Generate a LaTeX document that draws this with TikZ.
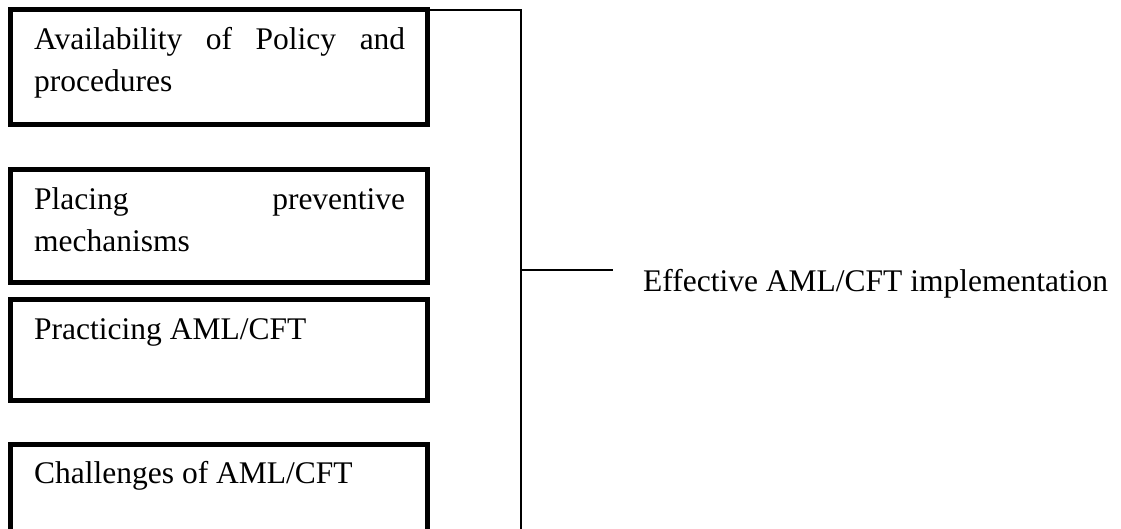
\documentclass[tikz,border=0pt]{standalone}
\usepackage{fontspec}
\setmainfont{Liberation Serif}
\hyphenpenalty=10000
\exhyphenpenalty=10000
\tolerance=10000
\hbadness=10000

\begin{document}
\begin{tikzpicture}[x=1pt, y=-1pt,
	box/.style={draw, line width=5pt, inner sep=0pt, outer sep=0pt, minimum width=417pt, anchor=north west},
	boxtext/.style={anchor=base west, inner sep=0pt, text width=371pt, align=justify, font=\fontsize{31.5}{42}\selectfont},
	wire/.style={line width=1.6pt}]
\useasboundingbox (0,0) rectangle (1121,529);
\clip (0,0) rectangle (1121,529);

% boxes on the left
\node[box, minimum height=115pt] (policy) at (10.5,10) {};
\node[box, minimum height=113pt] (preventive) at (10.5,169.5) {};
\node[box, minimum height=100.5pt] (practice) at (10.5,299.5) {};
\node[box, minimum height=95pt] (challenge) at (10.5,444.5) {}; % runs off the page

% box texts
\node[boxtext] (policytext) at ([shift={(23.5,40)}]policy.north west) {Availability of Policy and procedures};
\node[boxtext] (preventivetext) at ([shift={(23.5,40)}]preventive.north west) {Placing preventive mechanisms};
\node[boxtext] (practicetext) at ([shift={(23.5,40)}]practice.north west) {Practicing AML/CFT};
\node[boxtext] (challengetext) at ([shift={(23.5,39)}]challenge.north west) {Challenges of AML/CFT};

% bracket line
\coordinate (bottom) at (521,540);
\coordinate (join) at (521,270);
\coordinate (tip) at (613,270);
\draw[wire] (policy.north east) -| (bottom);
\draw[wire] (join) -- (tip);

% outcome
\node[anchor=base west, inner sep=0pt, font=\fontsize{31.5}{42}\selectfont] (effect) at (643,291) {Effective AML/CFT implementation};
\end{tikzpicture}
\end{document}
